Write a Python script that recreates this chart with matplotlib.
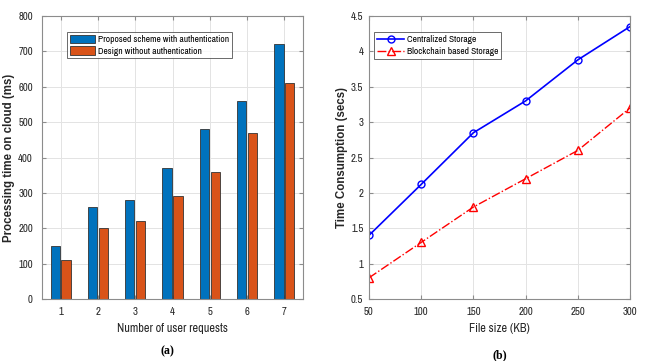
import matplotlib
matplotlib.use("Agg")
import matplotlib.pyplot as plt
import numpy as np

NARROW = ['Archivo Narrow', 'Liberation Sans', 'DejaVu Sans']
plt.rcParams['font.family'] = NARROW

requests = [1, 2, 3, 4, 5, 6, 7]
with_auth = [150, 260, 280, 370, 480, 560, 720]
without_auth = [110, 200, 220, 290, 360, 470, 610]

file_sizes = [50, 100, 150, 200, 250, 300]
centralized = [1.4, 2.12, 2.85, 3.3, 3.88, 4.35]
blockchain = [0.8, 1.3, 1.8, 2.2, 2.6, 3.2]

W, H = 649, 361
fig = plt.figure(figsize=(W/100, H/100), dpi=100)

def ax_rect(l, t, r, b):
    return [l/W, 1 - b/H, (r-l)/W, (b-t)/H]

tc = '#262626'
def style(ax, ypad):
    ax.grid(True, color='#e3e3e3', linewidth=0.7)
    ax.set_axisbelow(True)
    for s in ax.spines.values():
        s.set_color('#8c8c8c')
        s.set_linewidth(0.8)
    ax.tick_params(direction='in', length=3, color='#8c8c8c', labelcolor=tc, labelsize=7.8,
                   top=True, right=True)
    ax.tick_params(axis='x', pad=6)
    ax.tick_params(axis='y', pad=ypad)

ax1 = fig.add_axes(ax_rect(42, 16, 303, 299))
x = np.array(requests)
bw = 0.25
ax1.bar(x - 0.145, with_auth, bw, color='#0072BD', edgecolor='#333333', linewidth=0.6,
        label='Proposed scheme with authentication')
ax1.bar(x + 0.145, without_auth, bw, color='#D95319', edgecolor='#333333', linewidth=0.6,
        label='Design without authentication')
ax1.set_xlim(0.5, 7.5)
ax1.set_ylim(0, 800)
ax1.set_xticks(requests)
ax1.set_yticks(range(0, 801, 100))
style(ax1, 6.5)
ax1.set_xlabel('Number of user requests', fontsize=8.8, color=tc)
ax1.xaxis.set_label_coords(0.5, -0.085)
ax1.set_ylabel('Processing time on cloud (ms)', fontsize=8.3, fontweight='bold', color=tc,
               family=['Liberation Sans', 'DejaVu Sans'])
ax1.yaxis.set_label_coords(-0.104, 0.5)
leg1 = ax1.legend(loc='upper left', bbox_to_anchor=(25/261, 1 - 16/283), fontsize=6.8,
                  frameon=True, fancybox=False, edgecolor='#444444', borderpad=0.3,
                  handlelength=2.7, handleheight=1.0, handletextpad=0.3, labelspacing=0.2,
                  borderaxespad=0)
leg1.get_frame().set_linewidth(0.7)

ax2 = fig.add_axes(ax_rect(369, 16, 630, 299))
ax2.plot(file_sizes, centralized, '-o', color='#0000FF', linewidth=1.2, markersize=5,
         markerfacecolor='none', markeredgewidth=1.0, label='Centralized Storage')
ax2.plot(file_sizes, blockchain, '-.^', color='#FF0000', linewidth=1.0, markersize=5.5,
         markerfacecolor='none', markeredgewidth=1.0, label='Blockchain based Storage')
ax2.set_xlim(50, 300)
ax2.set_ylim(0.5, 4.5)
ax2.set_xticks(file_sizes)
ax2.set_yticks(np.arange(0.5, 4.51, 0.5))
ax2.set_yticklabels(['0.5', '1', '1.5', '2', '2.5', '3', '3.5', '4', '4.5'])
style(ax2, 4)
ax2.set_xlabel('File size (KB)', fontsize=8.8, color=tc)
ax2.xaxis.set_label_coords(0.5, -0.085)
ax2.set_ylabel('Time Consumption (secs)', fontsize=8.3, fontweight='bold', color=tc,
               family=['Liberation Sans', 'DejaVu Sans'])
ax2.yaxis.set_label_coords(-0.08, 0.5)
leg2 = ax2.legend(loc='upper left', bbox_to_anchor=(5/261, 1 - 16/283), fontsize=6.8,
                  frameon=True, fancybox=False, edgecolor='#444444', borderpad=0.3,
                  handlelength=2.9, handletextpad=0.3, labelspacing=0.35, borderaxespad=0)
leg2.get_frame().set_linewidth(0.7)

fig.text(167/W, 1 - 351/H, '(a)', ha='center', va='center', fontsize=8.5, fontweight='bold',
         family=['Liberation Serif', 'DejaVu Serif'])
fig.text(500/W, 1 - 355/H, '(b)', ha='center', va='center', fontsize=8.5, fontweight='bold',
         family=['Liberation Serif', 'DejaVu Serif'])

fig.savefig('out.png', dpi=100)
